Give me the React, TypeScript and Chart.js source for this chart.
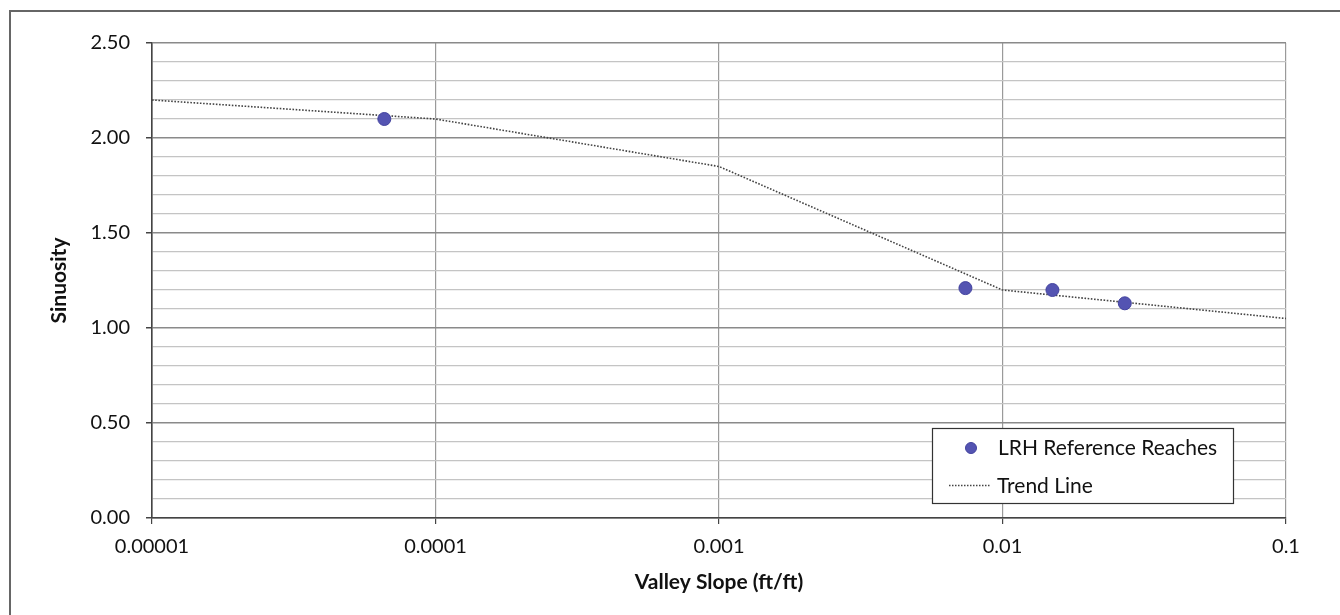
import React, { useEffect, useRef } from "react";
import { Chart, registerables } from "chart.js";

Chart.register(...registerables);

// Reference reaches (valley slope ft/ft vs sinuosity)
const reachSlopes = [0.000066, 0.0074, 0.015, 0.027];
const reachSinuosity = [2.1, 1.21, 1.2, 1.13];

// Trend line
const trendSlopes = [0.00001, 0.0001, 0.001, 0.01, 0.1];
const trendSinuosity = [2.2, 2.1, 1.85, 1.2, 1.05];

// Axis tick labels
const xTickValues = [0.00001, 0.0001, 0.001, 0.01, 0.1];
const xTickLabels = ["0.00001", "0.0001", "0.001", "0.01", "0.1"];

const seriesLabels = ["LRH Reference Reaches", "Trend Line"];

const FONT = "Lato, 'Liberation Sans', sans-serif";
const TEXT = "#111";
const POINT_FILL = "#5454b2";
const POINT_BORDER = "#43439f";
const TREND_COLOR = "#444";

const isMajor = (v: number) => Math.abs(v * 2 - Math.round(v * 2)) < 1e-6;

const framePlugin = {
  id: "frame",
  beforeDraw(chart: any) {
    const ctx = chart.ctx;
    ctx.save();
    ctx.fillStyle = "#fff";
    ctx.fillRect(0, 0, chart.width, chart.height);
    ctx.strokeStyle = "#666";
    ctx.lineWidth = 2;
    ctx.beginPath();
    ctx.moveTo(10, chart.height);
    ctx.lineTo(10, 11);
    ctx.lineTo(chart.width, 11);
    ctx.stroke();
    ctx.restore();
  },
};

const legendPlugin = {
  id: "customLegend",
  afterDraw(chart: any) {
    const ctx = chart.ctx;
    const ds = chart.data.datasets;
    const x0 = 932, y0 = 428, w = 301, h = 75;
    ctx.save();
    ctx.fillStyle = "#fff";
    ctx.fillRect(x0, y0, w, h);
    ctx.strokeStyle = "#333";
    ctx.lineWidth = 1.2;
    ctx.strokeRect(x0 + 0.5, y0 + 0.5, w, h);
    // point marker
    ctx.beginPath();
    ctx.arc(971, 448, 5.5, 0, Math.PI * 2);
    ctx.fillStyle = POINT_FILL;
    ctx.fill();
    ctx.strokeStyle = POINT_BORDER;
    ctx.lineWidth = 1;
    ctx.stroke();
    // dotted line
    ctx.beginPath();
    ctx.setLineDash([1.5, 1.5]);
    ctx.strokeStyle = TREND_COLOR;
    ctx.lineWidth = 1.3;
    ctx.moveTo(949, 485.5);
    ctx.lineTo(991, 485.5);
    ctx.stroke();
    ctx.setLineDash([]);
    ctx.fillStyle = TEXT;
    ctx.font = `21px ${FONT}`;
    ctx.textAlign = "left";
    ctx.textBaseline = "middle";
    ctx.fillText(ds[0].label, 998, 448);
    ctx.fillText(ds[1].label, 997, 486);
    ctx.restore();
  },
};

export default function App() {
  const ref = useRef<HTMLCanvasElement | null>(null);

  useEffect(() => {
    if (!ref.current) return;
    const chart = new Chart(ref.current, {
      type: "scatter",
      data: {
        datasets: [
          {
            label: seriesLabels[0],
            data: reachSlopes.map((x, i) => ({ x, y: reachSinuosity[i] })),
            backgroundColor: POINT_FILL,
            borderColor: POINT_BORDER,
            borderWidth: 1,
            pointRadius: 6.5,
            showLine: false,
            order: 0,
          },
          {
            label: seriesLabels[1],
            data: trendSlopes.map((x, i) => ({ x, y: trendSinuosity[i] })),
            borderColor: TREND_COLOR,
            borderWidth: 1.6,
            borderDash: [1.6, 1.6],
            pointRadius: 0,
            showLine: true,
            tension: 0,
            order: 1,
          },
        ],
      },
      options: {
        responsive: false,
        animation: false,
        layout: { padding: { top: 43, right: 54, bottom: 0, left: 0 } },
        plugins: {
          legend: { display: false },
          tooltip: { enabled: false },
        },
        scales: {
          x: {
            type: "logarithmic",
            min: 0.00001,
            max: 0.1,
            afterBuildTicks: (scale: any) => {
              scale.ticks = xTickValues.map((v) => ({ value: v }));
            },
            afterFit: (scale: any) => {
              scale.height = 97;
            },
            ticks: {
              autoSkip: false,
              maxRotation: 0,
              padding: 11,
              color: TEXT,
              font: { family: FONT, size: 20 },
              callback: (v: any) => {
                const i = xTickValues.findIndex((t) => Math.abs(Math.log10(t) - Math.log10(v)) < 1e-6);
                return i >= 0 ? xTickLabels[i] : "";
              },
            },
            grid: {
              color: "#9a9a9a",
              lineWidth: 1.2,
              tickLength: 6,
              tickColor: "#444",
            },
            border: { color: "#444", width: 1.6 },
            title: {
              display: true,
              text: "Valley Slope (ft/ft)",
              color: TEXT,
              font: { family: FONT, size: 21, weight: "bold" },
              padding: { top: 0, bottom: 20 },
            },
          },
          y: {
            min: 0,
            max: 2.5,
            afterFit: (scale: any) => {
              scale.width = 152;
            },
            ticks: {
              stepSize: 0.1,
              autoSkip: false,
              padding: 16,
              color: TEXT,
              font: { family: FONT, size: 20 },
              callback: (v: any) => (isMajor(Number(v)) ? Number(v).toFixed(2) : ""),
            },
            grid: {
              color: (c: any) => (isMajor(c.tick.value) ? "#8a8a8a" : "#c4c4c4"),
              lineWidth: (c: any) => (isMajor(c.tick.value) ? 1.5 : 1.2),
              tickLength: 6,
              tickColor: (c: any) => (isMajor(c.tick.value) ? "#444" : "rgba(0,0,0,0)"),
            },
            border: { color: "#444", width: 1.6 },
            title: {
              display: true,
              text: "Sinuosity",
              color: TEXT,
              font: { family: FONT, size: 21, weight: "bold" },
              padding: { top: 47, bottom: 0 },
            },
          },
        },
      },
      plugins: [framePlugin, legendPlugin],
    });
    return () => chart.destroy();
  }, []);

  return (
    <div style={{ position: "absolute", left: 0, top: 0, width: 1340, height: 615 }}>
      <canvas ref={ref} width={1340} height={615} style={{ display: "block" }} />
    </div>
  );
}
